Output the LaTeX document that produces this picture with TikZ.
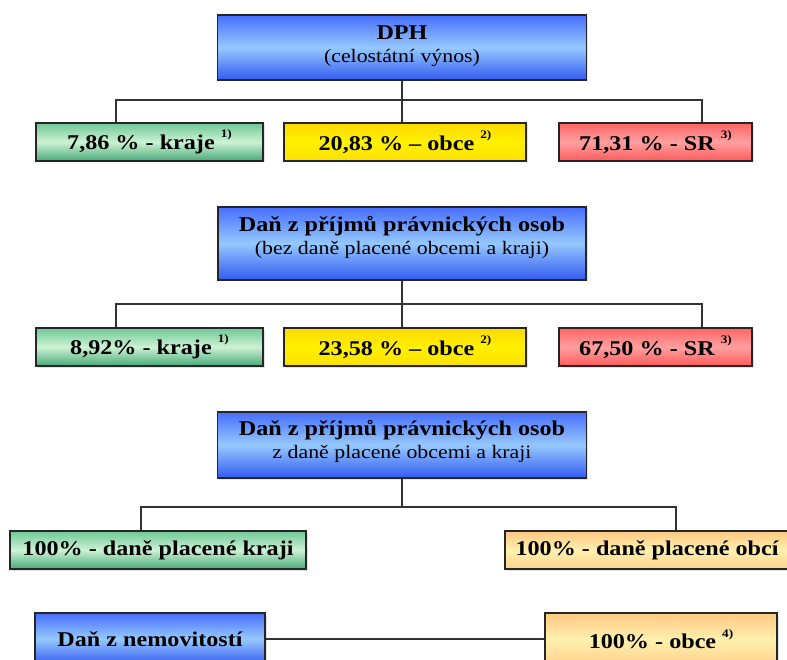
\documentclass[tikz,border=0pt]{standalone}
\usepackage{fontspec}
\setmainfont{Liberation Serif}[FakeStretch=1.15]
\usetikzlibrary{shadows}
\newcommand\supx[1]{\raisebox{0.55em}{\fontsize{11.5}{11.5}\selectfont #1}}
\definecolor{blueT}{RGB}{70,110,255}
\definecolor{blueM}{RGB}{150,200,255}
\definecolor{blueB}{RGB}{50,90,240}
\definecolor{greenT}{RGB}{110,200,150}
\definecolor{greenM}{RGB}{205,242,212}
\definecolor{greenB}{RGB}{70,170,120}
\definecolor{yelT}{RGB}{255,218,0}
\definecolor{yelM}{RGB}{255,240,0}
\definecolor{yelB}{RGB}{255,225,0}
\definecolor{redT}{RGB}{255,100,100}
\definecolor{redM}{RGB}{255,160,160}
\definecolor{redB}{RGB}{255,90,90}
\definecolor{orT}{RGB}{255,200,130}
\definecolor{orM}{RGB}{255,240,175}
\definecolor{orB}{RGB}{255,210,140}
\tikzset{
  box/.style={draw=black!85, line width=1.2pt, inner sep=0pt,
    drop shadow={opacity=0.22, shadow xshift=1.5pt, shadow yshift=-1.5pt}},
  bluebox/.style={box, top color=blueT, bottom color=blueB, middle color=blueM},
  greenbox/.style={box, top color=greenT, bottom color=greenB, middle color=greenM},
  yelbox/.style={box, top color=yelT, bottom color=yelB, middle color=yelM},
  redbox/.style={box, top color=redT, bottom color=redB, middle color=redM},
  orbox/.style={box, top color=orT, bottom color=orB, middle color=orM},
  lbl/.style={font=\fontsize{21}{23}\selectfont\bfseries, inner sep=0pt},
  head/.style={align=center, inner sep=0pt, font=\fontsize{21}{23}\selectfont},
  conn/.style={draw=black!80, line width=1.5pt},
}
\begin{document}
\begin{tikzpicture}[x=1pt,y=-1pt]
\useasboundingbox (0,0) rectangle (787,660);
% ---- DPH ----
\node[bluebox, minimum width=369pt, minimum height=65pt] (A) at (402,47.5) {};
\node[head] (tA) at ([yshift=1pt]A.center) {\textbf{DPH}\\{\fontsize{19}{23}\selectfont (celostátní výnos)}};
\node[greenbox, minimum width=227pt, minimum height=38pt] (g1) at (149.5,142) {};
\node[lbl] (tg1) at (g1.center) {7,86 \% - kraje \supx{1)}};
\node[yelbox, minimum width=242pt, minimum height=38pt] (y1) at (405,142) {};
\node[lbl] (ty1) at (y1.center) {20,83 \% – obce \supx{2)}};
\node[redbox, minimum width=193pt, minimum height=38pt] (r1) at (655.5,142) {};
\node[lbl] (tr1) at (r1.center) {71,31 \% - SR \supx{3)}};
\coordinate (b1) at (402,100);
\draw[conn] (A.south) -- (b1);
\draw[conn] (g1.north -| 116,0) |- (b1) -| (r1.north -| 702,0);
\draw[conn] (b1) -- (b1 |- y1.north);
% ---- DPPO ----
\node[bluebox, minimum width=368pt, minimum height=73pt] (B) at (402,243.5) {};
\node[head] (tB) at ([yshift=6pt]B.center) {\textbf{Daň z příjmů právnických osob}\\{\fontsize{19}{23}\selectfont (bez daně placené obcemi a kraji)}};
\node[greenbox, minimum width=227pt, minimum height=38pt] (g2) at (149.5,347) {};
\node[lbl] (tg2) at (g2.center) {8,92\% - kraje \supx{1)}};
\node[yelbox, minimum width=242pt, minimum height=38pt] (y2) at (405,347) {};
\node[lbl] (ty2) at (y2.center) {23,58 \% – obce \supx{2)}};
\node[redbox, minimum width=193pt, minimum height=38pt] (r2) at (655.5,347) {};
\node[lbl] (tr2) at (r2.center) {67,50 \% - SR \supx{3)}};
\coordinate (b2) at (402,304);
\draw[conn] (B.south) -- (b2);
\draw[conn] (g2.north -| 116,0) |- (b2) -| (r2.north -| 702,0);
\draw[conn] (b2) -- (b2 |- y2.north);
% ---- DPPO z dane placene ----
\node[bluebox, minimum width=369pt, minimum height=66pt] (C) at (402,445) {};
\node[head] (tC) at ([yshift=4pt]C.center) {\textbf{Daň z příjmů právnických osob}\\{\fontsize{19}{23}\selectfont z daně placené obcemi a kraji}};
\node[greenbox, minimum width=296pt, minimum height=38pt] (g3) at (158,550) {};
\node[lbl] (tg3) at (g3.center) {100\% - daně placené kraji};
\node[orbox, minimum width=284pt, minimum height=38pt] (o3) at (647,550) {};
\node[lbl] (to3) at (o3.center) {100\% - daně placené obcí};
\coordinate (b3) at (402,507);
\draw[conn] (C.south) -- (b3);
\draw[conn] (g3.north -| 141,0) |- (b3) -| (o3.north -| 676,0);
% ---- Dan z nemovitosti ----
\node[bluebox, minimum width=230pt, minimum height=52pt] (D) at (150,639) {};
\node[lbl] (tD) at (D.center) {Daň z nemovitostí};
\node[orbox, minimum width=232pt, minimum height=52pt] (o4) at (661,639) {};
\node[lbl] (to4) at (o4.center) {100\% - obce \supx{4)}};
\draw[conn] (D.east) -- (o4.west);
\end{tikzpicture}
\end{document}
